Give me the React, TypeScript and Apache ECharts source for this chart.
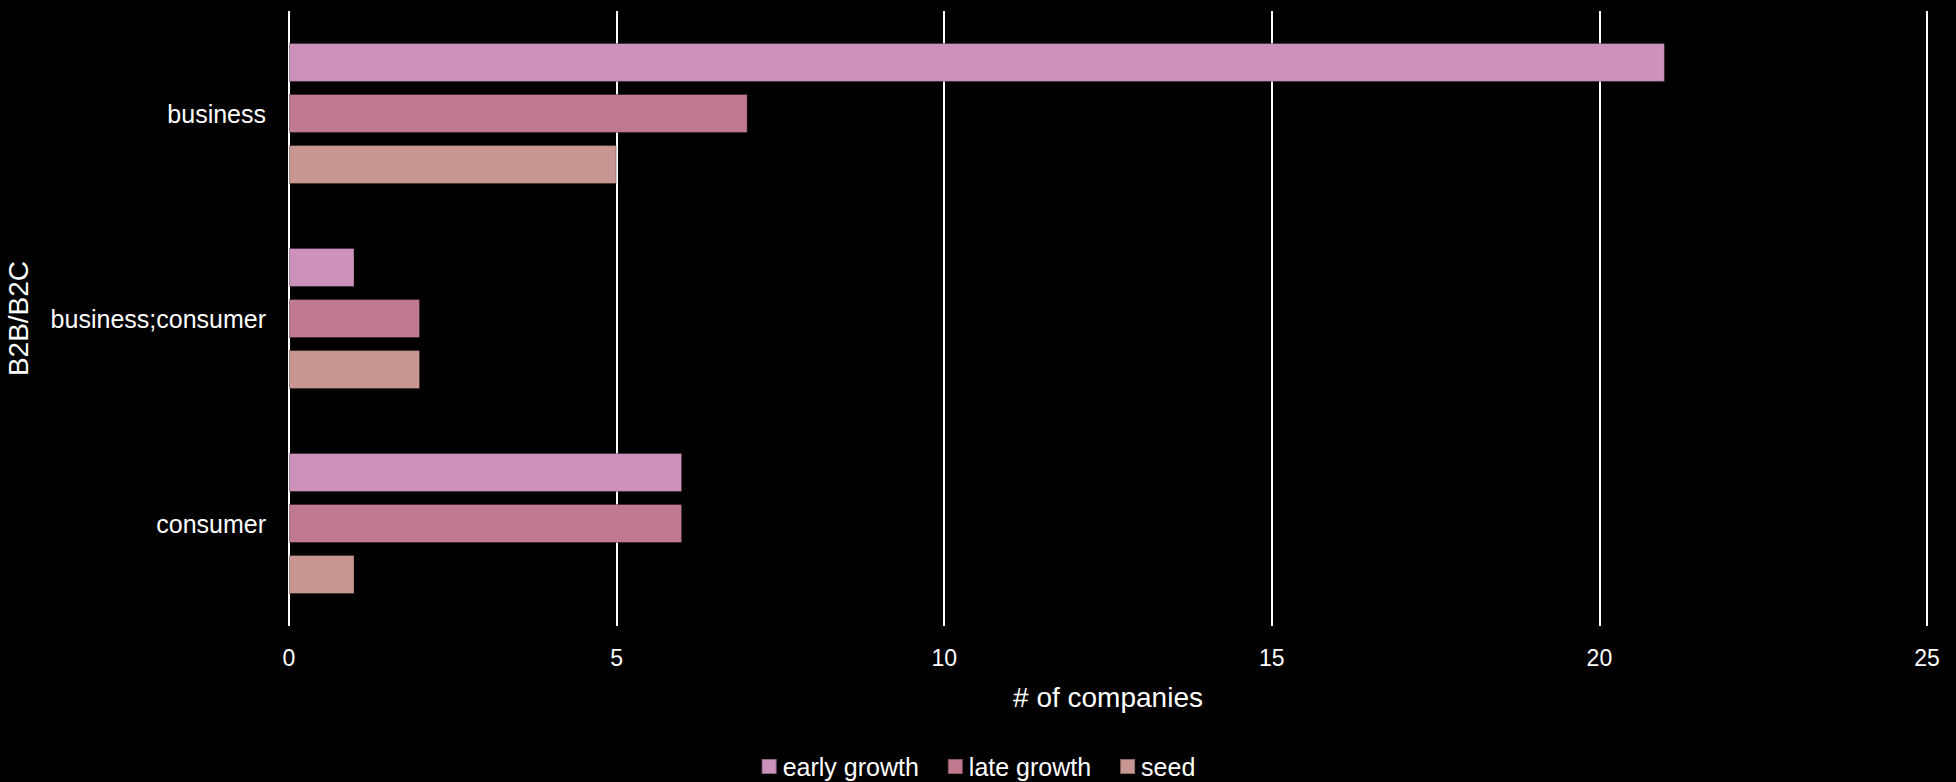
import React, { useEffect, useRef } from "react";
import * as echarts from "echarts";

const categories = ["business", "business;consumer", "consumer"];
const seriesNames = ["early growth", "late growth", "seed"];
const earlyGrowth = [21, 1, 6];
const lateGrowth = [7, 2, 6];
const seed = [5, 2, 1];
const colors = ["#CC92BC", "#BF7A8F", "#C99792"];
const xTicks = { min: 0, max: 25, interval: 5 };

const FONT = "'Liberation Sans', Arial, Helvetica, sans-serif";

export default function App() {
  const ref = useRef<HTMLDivElement>(null);
  useEffect(() => {
    if (!ref.current) return;
    const chart = echarts.init(ref.current, null, { renderer: "svg" });
    const values = [earlyGrowth, lateGrowth, seed];
    chart.setOption({
      animation: false,
      backgroundColor: "#000000",
      textStyle: { fontFamily: FONT, color: "#ffffff" },
      grid: {
        left: 289,
        right: 29,
        top: 11,
        bottom: 156,
        containLabel: false,
        outerBoundsMode: "none",
      },
      legend: {
        top: 754,
        left: "center",
        padding: 0,
        itemWidth: 15,
        itemHeight: 15,
        itemGap: 28,
        icon: "rect",
        textStyle: { color: "#ffffff", fontSize: 25, fontFamily: FONT, padding: [0, 0, 0, 1] },
        data: seriesNames,
      },
      xAxis: {
        type: "value",
        min: xTicks.min,
        max: xTicks.max,
        interval: xTicks.interval,
        name: "# of companies",
        nameLocation: "middle",
        nameGap: 57,
        nameTextStyle: { color: "#ffffff", fontSize: 28, fontFamily: FONT },
        axisLine: { show: false },
        axisTick: { show: false },
        axisLabel: { color: "#ffffff", fontSize: 23, margin: 20, fontFamily: FONT },
        splitLine: { show: true, lineStyle: { color: "#ffffff", width: 2 } },
      },
      yAxis: {
        type: "category",
        data: categories,
        inverse: true,
        name: "B2B/B2C",
        nameLocation: "middle",
        nameGap: 257,
        nameTextStyle: { color: "#ffffff", fontSize: 28, fontFamily: FONT },
        axisLine: { show: false },
        axisTick: { show: false },
        axisLabel: { color: "#ffffff", fontSize: 25, margin: 23, fontFamily: FONT },
        splitLine: { show: false },
      },
      series: seriesNames.map((name, i) => ({
        name,
        type: "bar",
        data: values[i],
        barWidth: 39,
        barGap: "31%",
        itemStyle: { color: colors[i], borderColor: "rgba(0,0,0,0.3)", borderWidth: 1 },
      })),
    });
    return () => chart.dispose();
  }, []);
  return (
    <div
      ref={ref}
      style={{ position: "fixed", left: 0, top: 0, width: 1956, height: 782, background: "#000" }}
    />
  );
}
